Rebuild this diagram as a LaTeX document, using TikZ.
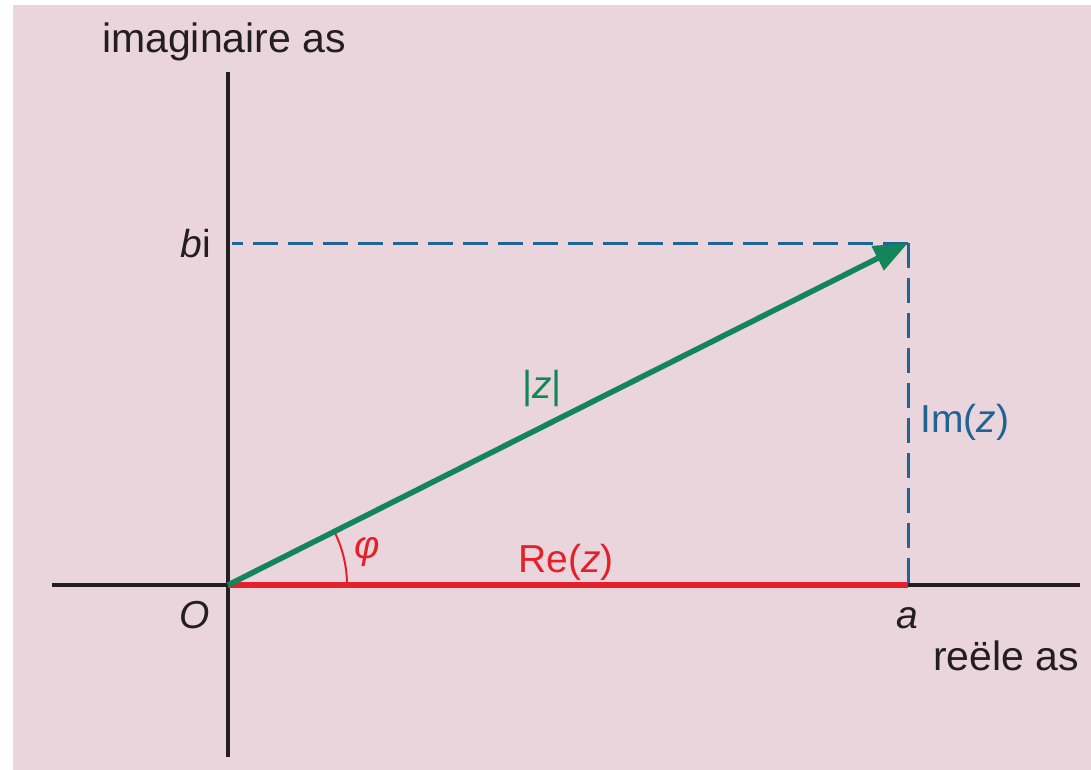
\documentclass[tikz,border=0pt]{standalone}
\usepackage{fontspec}
\setmainfont{Liberation Sans}
\usetikzlibrary{arrows.meta}
\definecolor{bgpink}{HTML}{EBD5DC}
\definecolor{axisblack}{HTML}{231F20}
\definecolor{vecgreen}{HTML}{12855A}
\definecolor{rered}{HTML}{E4202A}
\definecolor{imblue}{HTML}{1F6494}
\begin{document}
\begin{tikzpicture}[x=1pt,y=-1pt,
  lbl/.style={font=\fontsize{39}{46}\selectfont, inner sep=0pt, text=axisblack},
  axlbl/.style={lbl, font=\fontsize{41}{48}\selectfont},
  axisline/.style={draw=axisblack, line width=3.5pt},
  projline/.style={draw=imblue, line width=3pt, dash pattern=on 25pt off 10pt},
  reline/.style={draw=rered, line width=5.5pt},
  vecline/.style={draw=vecgreen, line width=5.5pt, -{Triangle[length=34pt,width=26pt]}},
  anglearc/.style={draw=rered, line width=2pt}]
\useasboundingbox (0,0) rectangle (1091,770);
\fill[white] (0,0) rectangle (1091,770);
\fill[bgpink] (13,5) rectangle (1091,770);
\coordinate (O) at (228,585);
\coordinate (P) at (908,243);
\coordinate (A) at (908,585);
\coordinate (B) at (232,243);
\coordinate (xl) at (52,585);
\coordinate (xr) at (1080,585);
\coordinate (yt) at (228,72);
\coordinate (yb) at (228,757);
\draw[axisline] (xl) -- (xr);
\draw[axisline] (yb) -- (yt);
\draw[projline] (P) -- (B);
\draw[projline] (P) -- (A);
\draw[reline] (O) -- (A);
\draw[anglearc] (O) ++(119,0) arc[start angle=0, end angle=-26.7, radius=119];
\draw[vecline] (O) -- (P);
\node[axlbl, anchor=base] (imag) at (224,53) {imaginaire as};
\node[axlbl, anchor=base] (reel) at (1006,670) {reële as};
\node[lbl, anchor=base east] (bi) at (211,257) {\textit{b}i};
\node[lbl, anchor=base] (Olbl) at (195,628) {\textit{O}};
\node[lbl, anchor=base] (albl) at (907,628) {\textit{a}};
\node[lbl, anchor=base, text=imblue] (im) at (965,432) {Im(\textit{z})};
\node[lbl, anchor=base, text=vecgreen] (abs) at (542,398) {|\textit{z}|};
\node[lbl, anchor=base, text=rered] (phi) at (367,558) {\textit{φ}};
\node[lbl, anchor=base, text=rered] (re) at (566,572) {Re(\textit{z})};
\end{tikzpicture}
\end{document}
